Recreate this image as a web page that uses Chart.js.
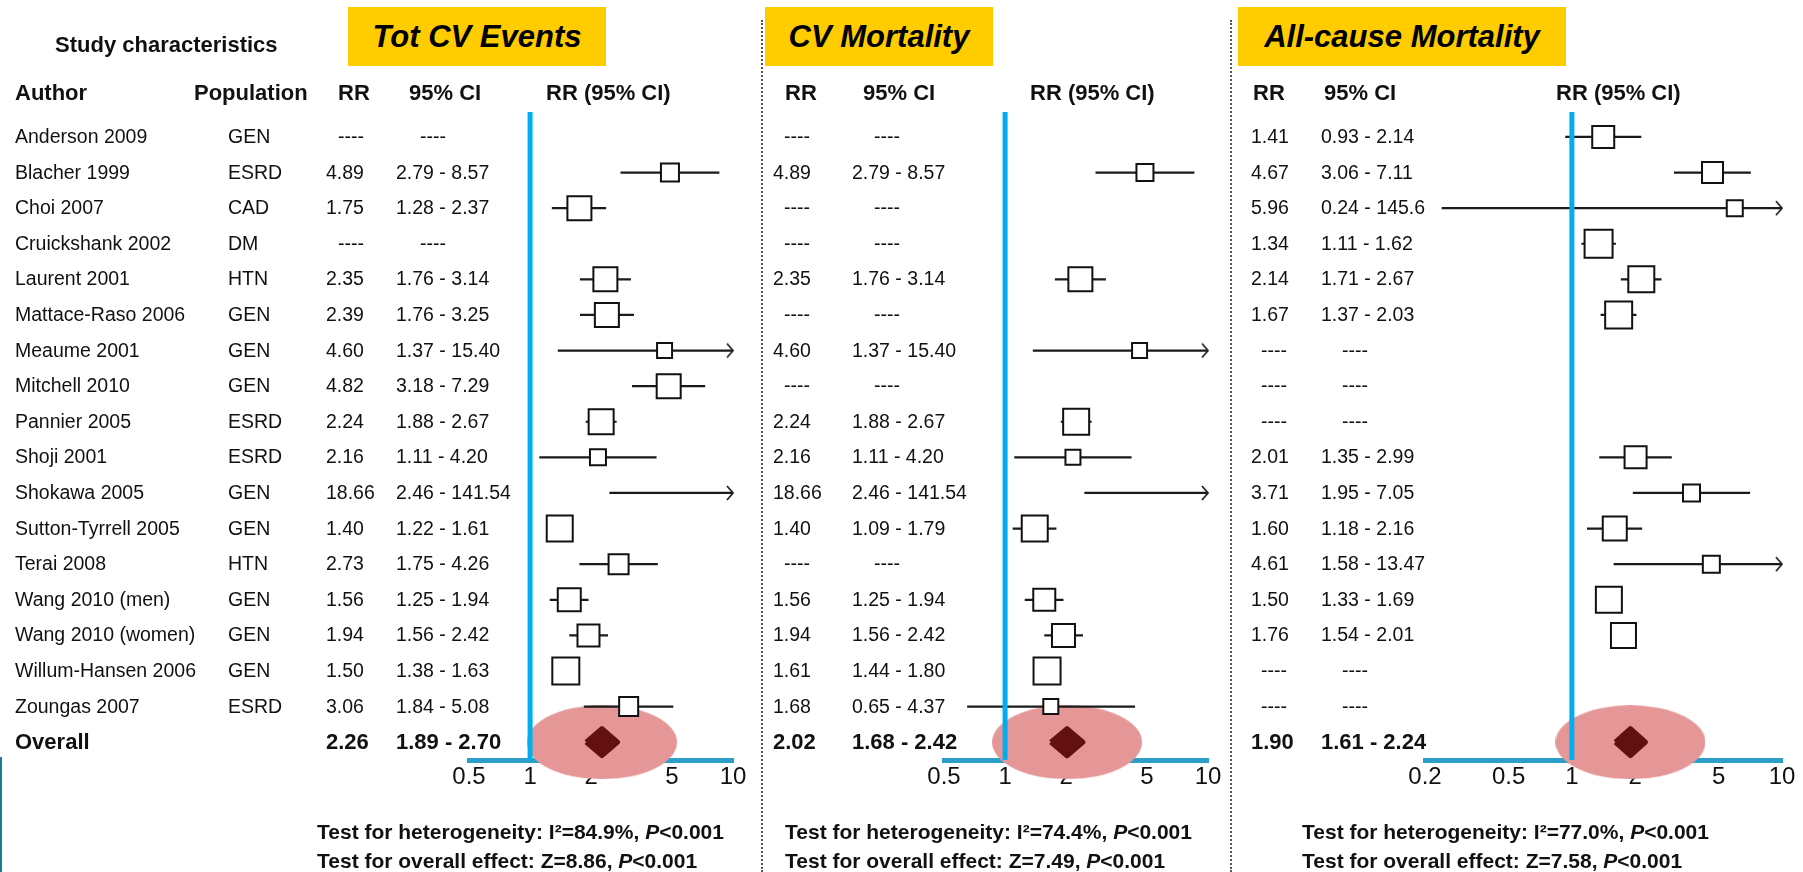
<!DOCTYPE html>
<html>
<head>
<meta charset="utf-8">
<script src="https://cdn.jsdelivr.net/npm/chart.js@4.4.0/dist/chart.umd.min.js"></script>
<style>
  html, body { margin: 0; padding: 0; background: #fff; }
  #page { position: relative; width: 1803px; height: 872px; overflow: hidden;
          font-family: "Liberation Sans", Arial, Helvetica, sans-serif; color: #111; }
  canvas { position: absolute; top: 0; }
  .t { position: absolute; white-space: nowrap; line-height: 1; transform: translateY(-50%); font-size: 19.5px; }
  .h { font-weight: bold; font-size: 22px; }
  .b { font-weight: bold; font-size: 22px; }
  .stat { font-weight: bold; font-size: 21px; }
  .title { position: absolute; top: 7px; height: 59px; background: #ffcc00; color: #000;
           font: italic bold 31px "Liberation Sans", Arial, sans-serif;
           display: flex; align-items: center; justify-content: center; }
  .sep { position: absolute; top: 20px; bottom: 0; border-left: 2px dotted #555; }
</style>
</head>
<body>
<div id="page">
  <canvas id="c1" width="759" height="872" style="left:0px"></canvas>
  <canvas id="c2" width="469" height="872" style="left:759px"></canvas>
  <canvas id="c3" width="575" height="872" style="left:1228px"></canvas>
  <div class="sep" style="left:761px"></div>
  <div class="sep" style="left:1230px"></div>
  <div style="position:absolute;left:0;top:757px;width:2px;height:115px;background:#1b7c96"></div>
  <div class="title" style="left:348px;width:258px">Tot CV Events</div>
  <div class="title" style="left:765px;width:228px">CV Mortality</div>
  <div class="title" style="left:1238px;width:328px">All-cause Mortality</div>
</div>
<script>
// ---- data ----
const authors = ['Anderson 2009', 'Blacher 1999', 'Choi 2007', 'Cruickshank 2002', 'Laurent 2001',
  'Mattace-Raso 2006', 'Meaume 2001', 'Mitchell 2010', 'Pannier 2005', 'Shoji 2001', 'Shokawa 2005',
  'Sutton-Tyrrell 2005', 'Terai 2008', 'Wang 2010 (men)', 'Wang 2010 (women)', 'Willum-Hansen 2006', 'Zoungas 2007'];
const population = ['GEN', 'ESRD', 'CAD', 'DM', 'HTN', 'GEN', 'GEN', 'GEN', 'ESRD', 'ESRD', 'GEN',
  'GEN', 'HTN', 'GEN', 'GEN', 'GEN', 'ESRD'];

const ticksA = [0.5, 1, 2, 5, 10];
const ticksB = [0.2, 0.5, 1, 2, 5, 10];

// Tot CV events
const totRR = [null, '4.89', '1.75', null, '2.35', '2.39', '4.60', '4.82', '2.24', '2.16', '18.66', '1.40', '2.73', '1.56', '1.94', '1.50', '3.06'];
const totLo = [null, '2.79', '1.28', null, '1.76', '1.76', '1.37', '3.18', '1.88', '1.11', '2.46', '1.22', '1.75', '1.25', '1.56', '1.38', '1.84'];
const totHi = [null, '8.57', '2.37', null, '3.14', '3.25', '15.40', '7.29', '2.67', '4.20', '141.54', '1.61', '4.26', '1.94', '2.42', '1.63', '5.08'];
const totWeight = [null, 18, 24, null, 24, 24, 15, 24, 25, 16, 15, 26, 20, 23, 22, 27, 19];
const totOverall = ['2.26', '1.89', '2.70'];
const totTests = ['84.9%', '8.86'];

// CV mortality
const cvRR = [null, '4.89', null, null, '2.35', null, '4.60', null, '2.24', '2.16', '18.66', '1.40', null, '1.56', '1.94', '1.61', '1.68'];
const cvLo = [null, '2.79', null, null, '1.76', null, '1.37', null, '1.88', '1.11', '2.46', '1.09', null, '1.25', '1.56', '1.44', '0.65'];
const cvHi = [null, '8.57', null, null, '3.14', null, '15.40', null, '2.67', '4.20', '141.54', '1.79', null, '1.94', '2.42', '1.80', '4.37'];
const cvWeight = [null, 17, null, null, 24, null, 15, null, 26, 15, 15, 26, null, 22, 23, 27, 15];
const cvOverall = ['2.02', '1.68', '2.42'];
const cvTests = ['74.4%', '7.49'];

// All-cause mortality
const allRR = ['1.41', '4.67', '5.96', '1.34', '2.14', '1.67', null, null, null, '2.01', '3.71', '1.60', '4.61', '1.50', '1.76', null, null];
const allLo = ['0.93', '3.06', '0.24', '1.11', '1.71', '1.37', null, null, null, '1.35', '1.95', '1.18', '1.58', '1.33', '1.54', null, null];
const allHi = ['2.14', '7.11', '145.6', '1.62', '2.67', '2.03', null, null, null, '2.99', '7.05', '2.16', '13.47', '1.69', '2.01', null, null];
const allWeight = [22, 21, 16, 28, 26, 27, null, null, null, 22, 17, 24, 17, 26, 25, null, null];
const allOverall = ['1.90', '1.61', '2.24'];
const allTests = ['77.0%', '7.58'];

// ---- drawing ----
const FONT = '"Liberation Sans", Arial, Helvetica, sans-serif';
Chart.defaults.font.family = FONT;
const page = document.getElementById('page');
const OVERALL_ROW = authors.length;
const DIAMOND_H = 0.38;

function addText(html, x, y, cls) {
  const d = document.createElement('div');
  d.className = 't ' + (cls || '');
  d.style.left = x + 'px';
  d.style.top = y + 'px';
  d.innerHTML = html;
  page.appendChild(d);
}

function ellipseImg(rx, ry, color) {
  const c = document.createElement('canvas');
  c.width = rx * 2; c.height = ry * 2;
  const g = c.getContext('2d');
  g.fillStyle = color;
  g.beginPath(); g.ellipse(rx, ry, rx, ry, 0, 0, Math.PI * 2); g.fill();
  return c;
}

function arrowImg() {
  const c = document.createElement('canvas');
  c.width = 20; c.height = 18;
  const g = c.getContext('2d');
  g.strokeStyle = '#222'; g.lineWidth = 1.8;
  g.beginPath(); g.moveTo(4, 2); g.lineTo(10, 9); g.lineTo(4, 16); g.stroke();
  return c;
}

const panels = [
  { id: 'c1', left: 0, padL: 469, padR: 26, xMin: 0.5, xMax: 10, ticks: ticksA,
    rr: totRR, lo: totLo, hi: totHi, w: totWeight, overall: totOverall, tests: totTests,
    col: { rr: 326, ci: 396, rrDash: 338, ciDash: 420, stat: 317 } },
  { id: 'c2', left: 759, padL: 185, padR: 20, xMin: 0.5, xMax: 10, ticks: ticksA,
    rr: cvRR, lo: cvLo, hi: cvHi, w: cvWeight, overall: cvOverall, tests: cvTests,
    col: { rr: 773, ci: 852, rrDash: 784, ciDash: 874, stat: 785 } },
  { id: 'c3', left: 1228, padL: 197, padR: 21, xMin: 0.2, xMax: 10, ticks: ticksB,
    rr: allRR, lo: allLo, hi: allHi, w: allWeight, overall: allOverall, tests: allTests,
    col: { rr: 1251, ci: 1321, rrDash: 1261, ciDash: 1342, stat: 1302 } }
];

function buildChart(p) {
  const ci = [], boxes = [], boxR = [], arrows = [];
  p.rr.forEach((v, i) => {
    if (v === null) return;
    const lo = +p.lo[i], hi = +p.hi[i], rr = +v;
    ci.push({ x: lo, y: i }, { x: hi, y: i }, { x: hi, y: null });
    if (rr <= p.xMax) { boxes.push({ x: rr, y: i }); boxR.push(p.w[i] / Math.SQRT2); }
    if (hi > p.xMax) arrows.push({ x: p.xMax, y: i });
  });
  const [oRR, oLo, oHi] = p.overall.map(Number);
  const diamond = [
    { x: oLo, y: OVERALL_ROW }, { x: oRR, y: OVERALL_ROW - DIAMOND_H },
    { x: oHi, y: OVERALL_ROW }, { x: oRR, y: OVERALL_ROW + DIAMOND_H }, { x: oLo, y: OVERALL_ROW }
  ];

  return new Chart(document.getElementById(p.id), {
    type: 'scatter',
    data: {
      datasets: [
        { data: diamond, showLine: true, fill: 'shape', backgroundColor: '#631010', borderColor: '#631010',
          borderWidth: 5, borderJoinStyle: 'round', pointRadius: 0, clip: false, order: 1 },
        { data: [{ x: 1, y: -0.7 }, { x: 1, y: OVERALL_ROW + 0.5 }], showLine: true,
          borderColor: '#00aeef', borderWidth: 5, pointRadius: 0, order: 2 },
        { data: boxes, pointStyle: 'rect', pointRadius: boxR, backgroundColor: '#fff',
          borderColor: '#111', borderWidth: 2, order: 3 },
        { data: arrows, pointStyle: arrowImg(), pointRadius: 4, clip: false, order: 3 },
        { data: ci, showLine: true, spanGaps: false, borderColor: '#1a1a1a', borderWidth: 2.2,
          pointRadius: 0, order: 4 },
        { data: [{ x: oRR, y: OVERALL_ROW }], pointStyle: ellipseImg(75, 37, '#e59797'),
          pointRadius: 4, clip: false, order: 6 }
      ]
    },
    options: {
      responsive: false,
      animation: false,
      devicePixelRatio: 1,
      events: [],
      layout: { autoPadding: false, padding: { left: p.padL, right: p.padR, top: 112, bottom: 72 } },
      plugins: { legend: { display: false }, tooltip: { enabled: false } },
      scales: {
        x: {
          type: 'logarithmic', min: p.xMin, max: p.xMax, position: 'bottom', z: 1,
          grid: { display: false, drawTicks: false },
          border: { display: true, color: '#2c9fc9', width: 5 },
          afterBuildTicks: s => { s.ticks = p.ticks.map(v => ({ value: v })); },
          afterFit: s => { s.height = 40; },
          ticks: { color: '#111', font: { size: 24 }, padding: 3, autoSkip: false, maxRotation: 0,
                   callback: v => String(v) }
        },
        y: { type: 'linear', reverse: true, min: -0.7, max: OVERALL_ROW + 0.5, display: false }
      }
    }
  });
}

const charts = panels.map(buildChart);

// ---- table text, rows placed with the chart's own y scale ----
const yAt = i => charts[0].scales.y.getPixelForValue(i);

addText('Study characteristics', 55, 45, 'h');
addText('Author', 15, 93, 'h');
addText('Population', 194, 93, 'h');
authors.forEach((a, i) => {
  addText(a, 15, yAt(i));
  addText(population[i], 228, yAt(i));
});
addText('Overall', 15, yAt(OVERALL_ROW), 'b');

const headRR = [338, 785, 1253], headCI = [409, 863, 1324], headPlot = [546, 1030, 1556];
panels.forEach((p, k) => {
  const y = charts[k].scales.y;
  addText('RR', headRR[k], 93, 'h');
  addText('95% CI', headCI[k], 93, 'h');
  addText('RR (95% CI)', headPlot[k], 93, 'h');
  p.rr.forEach((v, i) => {
    const py = y.getPixelForValue(i);
    if (v === null) {
      addText('----', p.col.rrDash, py);
      addText('----', p.col.ciDash, py);
    } else {
      addText(v, p.col.rr, py);
      addText(p.lo[i] + ' - ' + p.hi[i], p.col.ci, py);
    }
  });
  const oy = y.getPixelForValue(OVERALL_ROW);
  addText(p.overall[0], p.col.rr, oy, 'b');
  addText(p.overall[1] + ' - ' + p.overall[2], p.col.ci, oy, 'b');
  addText('Test for heterogeneity: I\u00b2=' + p.tests[0] + ', <i>P</i>&lt;0.001', p.col.stat, 831, 'stat');
  addText('Test for overall effect: Z=' + p.tests[1] + ', <i>P</i>&lt;0.001', p.col.stat, 860, 'stat');
});
</script>
</body>
</html>
